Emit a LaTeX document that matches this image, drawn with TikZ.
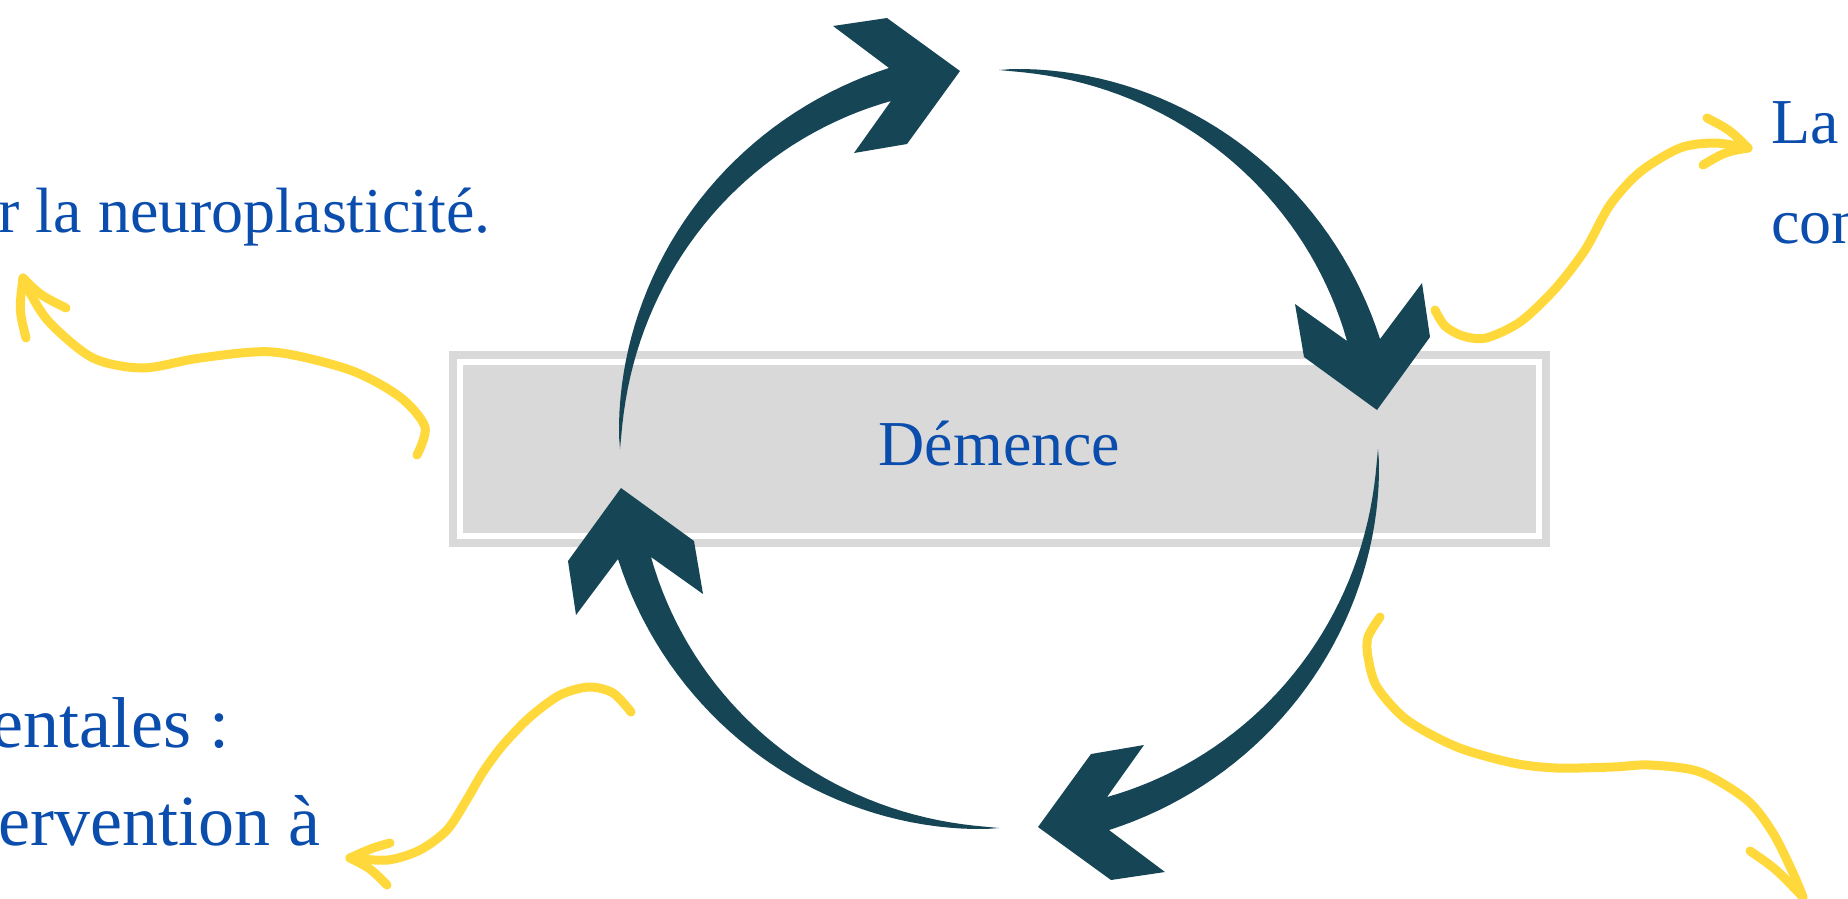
\documentclass[tikz,border=0pt]{standalone}
\usepackage{fontspec}
\setmainfont{Liberation Serif}
\definecolor{cyclecol}{HTML}{164656}
\definecolor{boxgray}{HTML}{D9D9D9}
\definecolor{textblue}{HTML}{0B4DAD}
\definecolor{penyellow}{HTML}{FFD93B}

\tikzset{
    scribble/.style={draw=penyellow, line width=9pt, line cap=round, line join=round},
    label text/.style={text=textblue, inner sep=0pt, font=\fontsize{64}{77}\selectfont},
    big label/.style={label text, font=\fontsize{72}{86}\selectfont},
    demence box/.style={draw=boxgray, double=white, double distance=6pt, line width=8pt,
        fill=boxgray, minimum width=1079pt, minimum height=174pt,
        text=textblue, font=\fontsize{64}{77}\selectfont, text height=40pt, text depth=8pt}
}
% taper of the cycle arrows
\newcommand{\tpr}[2]{(0.7*max(0,(#1-180)/#2)+0.3*sqrt(max(0,(#1-180)/#2)))}
\newcommand{\outr}[1]{379+17.6*\tpr{#1}{73.9}}
\newcommand{\innr}[1]{379-14.6*\tpr{#1}{72.8}}

\begin{document}
\begin{tikzpicture}[x=1pt, y=-1pt]
    \useasboundingbox (0,0) rectangle (1848,898);
    \clip (0,0) rectangle (1848,898);

    \node[demence box] (dem) at (999.5,449) {Démence};

    \coordinate (ctr) at (999,449);
    % the four arrows of the cycle
    \foreach \ang in {0,90,180,270}{
        \begin{scope}[shift={(ctr)}, rotate=-\ang]
        \fill[cyclecol] plot[domain=180:253.9, samples=40, variable=\t]
            ({(\outr{\t})*cos(\t)}, {(\outr{\t})*sin(\t)})
            -- (-166,-423) -- (-112,-431) -- (-39,-378) -- (-92,-305) -- (-145,-296) -- (-108,-348)
            -- plot[domain=252.8:180, samples=40, variable=\t]
            ({(\innr{\t})*cos(\t)}, {(\innr{\t})*sin(\t)}) -- cycle;
        \end{scope}
    }

    % texts
    \node[label text, anchor=base east] (neuro) at (491,232) {r la neuroplasticité.};
    \node[big label, anchor=base east] (ment) at (230,747) {entales :};
    \node[big label, anchor=base east] (interv) at (321,845) {ervention à};
    \node[label text, anchor=base west] (la) at (1771,143) {La};
    \node[label text, anchor=base west] (con) at (1771,243) {con};

    % yellow scribbles
    \coordinate (tlend) at (23,278);
    \draw[scribble] plot[smooth] coordinates {(417,455) (425,427) (400,397) (350,370) (273,352)
        (200,358) (143,368) (93,358) (50,323) (30,293) (tlend)};
    \draw[scribble] (tlend) .. controls (40,295) .. (66,308);
    \draw[scribble] (tlend) .. controls (19,310) .. (26,338);

    \coordinate (trend) at (1748,148);
    \draw[scribble] plot[smooth] coordinates {(1435,310) (1445,326) (1463,336) (1486,338) (1520,322)
        (1555,289) (1585,250) (1610,205) (1640,172) (1680,148) (1715,143) (trend)};
    \draw[scribble] (trend) .. controls (1730,130) .. (1707,118);
    \draw[scribble] (trend) .. controls (1725,152) .. (1703,165);

    \coordinate (blend) at (350,858);
    \draw[scribble] plot[smooth] coordinates {(631,712) (613,693) (589,687) (560,695) (530,717)
        (503,745) (483,772) (466,801) (447,830) (420,850) (388,860) (blend)};
    \draw[scribble] (blend) .. controls (372,848) .. (390,843);
    \draw[scribble] (blend) .. controls (370,868) .. (387,885);

    \coordinate (brend) at (1803,897);
    \draw[scribble] plot[smooth] coordinates {(1380,617) (1368,637) (1368,657) (1377,687) (1407,720)
        (1457,747) (1513,763) (1557,768) (1613,767) (1650,765) (1700,772) (1747,800) (1773,833)
        (1793,873) (brend)};
    \draw[scribble] (brend) .. controls (1775,868) .. (1750,851);
\end{tikzpicture}
\end{document}
